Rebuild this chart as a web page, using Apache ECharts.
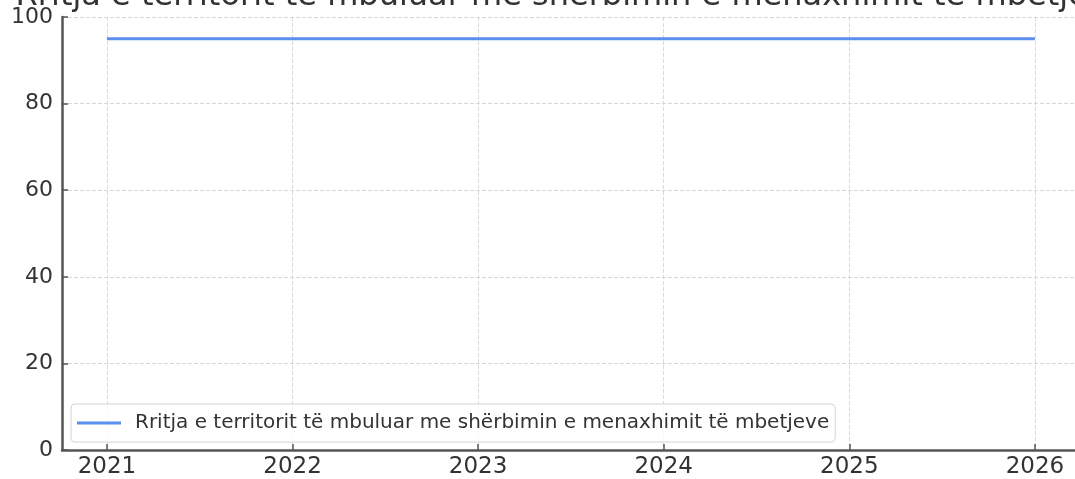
<!DOCTYPE html>
<html>
<head>
<meta charset="utf-8">
<script src="https://cdn.jsdelivr.net/npm/echarts@6/dist/echarts.min.js"></script>
<style>
  html, body { margin: 0; padding: 0; background: #fff; }
  #chart { width: 1075px; height: 479px; }
</style>
</head>
<body>
<div id="chart"></div>
<script>
var years = [2021, 2022, 2023, 2024, 2025, 2026];
var coverage = [95, 95, 95, 95, 95, 95];
var yTicks = [0, 20, 40, 60, 80, 100];
var seriesName = 'Rritja e territorit të mbuluar me shërbimin e menaxhimit të mbetjeve';

var chart = echarts.init(document.getElementById('chart'));

var points = [];
for (var i = 0; i < years.length; i++) {
    points.push([years[i], coverage[i]]);
}

var font = 'DejaVu Sans';

option = {
    animation: false,
    textStyle: { fontFamily: font },
    title: {
        text: seriesName,
        left: 571,
        textAlign: 'center',
        top: -19,
        padding: 0,
        textStyle: { fontFamily: font, fontSize: 32, fontWeight: 'normal', color: '#333' }
    },
    legend: {
        left: 71,
        top: 404,
        orient: 'horizontal',
        // line sample with an empty gap after it, so the text starts further right
        icon: 'path://M0,0H44V3H0ZM52.9,0H53V3H52.9Z',
        itemWidth: 53,
        itemHeight: 3,
        itemGap: 10,
        padding: [9, 6, 9, 6],
        borderColor: '#d4d4d4',
        borderWidth: 1,
        borderRadius: 4,
        backgroundColor: 'rgba(255,255,255,0.8)',
        textStyle: { fontFamily: font, fontSize: 20, color: '#333' },
        data: [seriesName]
    },
    grid: {
        left: 62,
        top: 17,
        bottom: 29,
        right: 0,
        containLabel: false
    },
    xAxis: {
        type: 'value',
        min: 2020.758,
        max: 2026.216,
        axisLine: { show: true, lineStyle: { color: '#555', width: 2.5 } },
        axisTick: { show: true, inside: true, length: 6, lineStyle: { color: '#555', width: 1.5 }, customValues: years },
        axisLabel: {
            customValues: years,
            fontFamily: font, fontSize: 23, color: '#333', margin: 6,
            formatter: function (v) { return String(v); }
        },
        splitLine: { show: true, lineStyle: { color: '#d8d8d8', type: 'dashed', width: 1 } }
    },
    yAxis: {
        type: 'value',
        min: 0,
        max: 100,
        interval: 20,
        axisLine: { show: true, lineStyle: { color: '#555', width: 2.5 } },
        axisTick: { show: true, inside: true, length: 6, lineStyle: { color: '#555', width: 1.5 } },
        axisLabel: { fontFamily: font, fontSize: 22, color: '#333', margin: 9 },
        splitLine: { show: true, lineStyle: { color: '#d8d8d8', type: 'dashed', width: 1 } }
    },
    series: [{
        name: seriesName,
        type: 'line',
        data: points,
        showSymbol: false,
        symbol: 'none',
        itemStyle: { color: '#5b8fee' },
        lineStyle: { color: '#5b8fee', width: 3 }
    }]
};

chart.setOption(option);
</script>
</body>
</html>
